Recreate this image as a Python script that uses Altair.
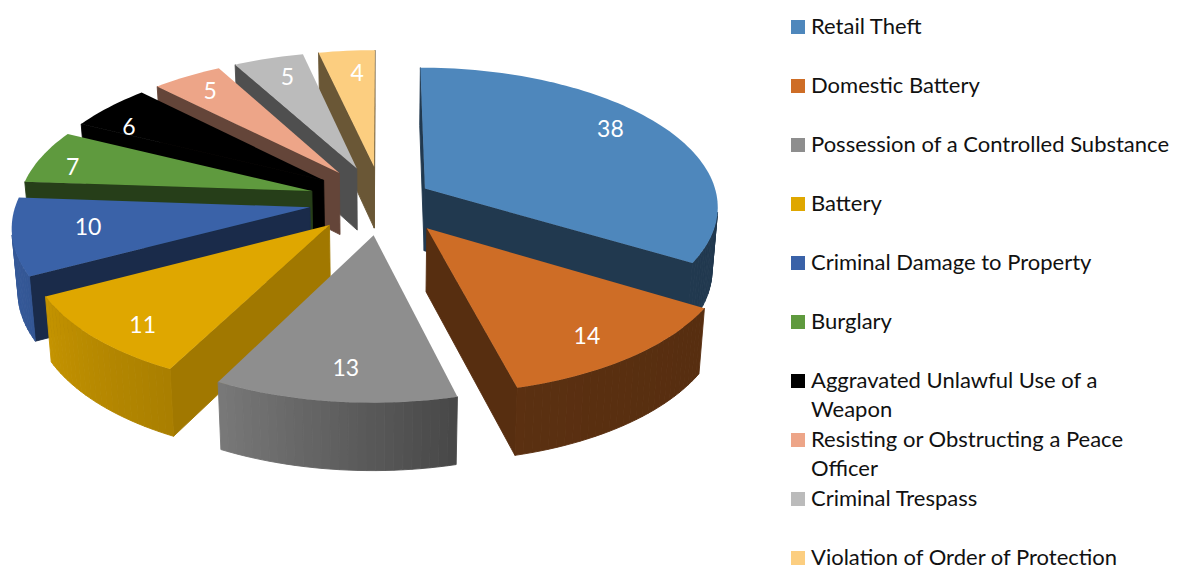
import math
import altair as alt

categories = ["Retail Theft", "Domestic Battery", "Possession of a Controlled Substance", "Battery",
              "Criminal Damage to Property", "Burglary", "Aggravated Unlawful Use of a Weapon",
              "Resisting or Obstructing a Peace Officer", "Criminal Trespass", "Violation of Order of Protection"]
values = [38, 14, 13, 11, 10, 7, 6, 5, 5, 4]
colors = ["#4E87BC", "#CE6D26", "#8E8E8E", "#DFA700", "#3A62A8", "#5F9A3E", "#000000", "#EDA588", "#BBBBBB", "#FCCE80"]
explode = [0.17, 0.25, 0.25, 0.25, 0.25, 0.25, 0.25, 0.25, 0.25, 0.25]

# Lighting and layout of the 3-D pie
wall_shade = [0.42, 0.42, 0.42, 0.72, 0.44, 0.40, 0.42, 0.42, 0.42, 0.42]
rim_light = [(0.42, 0.42), (0.42, 0.44), (0.50, 0.85), (0.76, 0.88), (0.88, 0.95),
             (0.70, 0.80), (0.42, 0.42), (0.42, 0.42), (0.42, 0.42), (0.42, 0.42)]
label_nudge = [(-1, -9), (5, 10), (2, 8), (-7, 15), (9, -2), (-27, 4), (-25, 6), (-8, -4), (1, -3), (5, 0)]
CX, CY, RX, RY, K, THICK = 382.0, 200.0, 293.0, 138.0, 0.12, 62.5
LEGEND_TEXT_X, LEGEND_FIRST_ROW, LEGEND_ROW, LEGEND_LINE = 811, 27, 59, 29
total = sum(values)


def project(X, Z, low=False):
    s = 1.0 / (1.0 + K * Z)
    x = RX * X * s
    y = -RY * Z * s
    if low:
        x *= 0.983
        y += THICK * (1 - 0.07 * Z)
    return [CX + x, CY + y]


def shade(hex_color, f):
    rgb = [int(hex_color[i:i + 2], 16) for i in (1, 3, 5)]
    return "#%02x%02x%02x" % tuple(min(255, round(c * f)) for c in rgb)


def area(q):
    return sum(q[i][0] * q[(i + 1) % len(q)][1] - q[(i + 1) % len(q)][0] * q[i][1] for i in range(len(q)))


def poly(points):
    return {"type": "Polygon", "coordinates": [points + [points[0]]]}


layers = []
labels = []
slices = []
start = 0.0
for i, v in enumerate(values):
    a0 = start / total * 2 * math.pi
    a1 = (start + v) / total * 2 * math.pi
    start += v
    mid = (a0 + a1) / 2
    ox, oz = explode[i] * math.sin(mid), explode[i] * math.cos(mid)
    n = max(4, int((a1 - a0) / math.radians(1.5)))
    angs = [a0 + (a1 - a0) * j / n for j in range(n + 1)]
    rim = [(ox + math.sin(t), oz + math.cos(t)) for t in angs]
    faces = []
    wc = shade(colors[i], wall_shade[i])
    for side, end in ((-1, rim[0]), (1, rim[-1])):
        q = [project(ox, oz), project(*end), project(*end, low=True), project(ox, oz, low=True)]
        if area(q) * side > 0:
            faces.append(((oz + end[1]) / 2, wc, q))
    lo, hi = rim_light[i]
    for j in range(n):
        p, r = rim[j], rim[j + 1]
        q = [project(*p), project(*r), project(*r, low=True), project(*p, low=True)]
        if area(q) < 0:
            faces.append(((p[1] + r[1]) / 2, shade(colors[i], lo + (hi - lo) * (j + 0.5) / n), q))
    faces.sort(key=lambda f: -f[0])
    walls = [{"type": "Feature", "geometry": poly(q), "fill": c} for _, c, q in faces]
    top = [{"type": "Feature", "geometry": poly([project(ox, oz)] + [project(*p) for p in rim]),
            "category": categories[i]}]
    lab = project(ox + 0.78 * math.sin(mid), oz + 0.78 * math.cos(mid))
    labels.append({"lon": lab[0] + label_nudge[i][0], "lat": lab[1] + label_nudge[i][1], "value": v})
    slices.append((walls, top))

color = alt.Color(
    "category:N",
    scale=alt.Scale(domain=categories, range=colors),
    legend=alt.Legend(
        title=None, orient="none", legendX=779, legendY=LEGEND_FIRST_ROW - 8 - LEGEND_ROW / 2, symbolType="square",
        symbolSize=196, symbolStrokeWidth=0, symbolOpacity=1, labelFont="Lato", labelFontSize=22, labelColor="#111111",
        labelLimit=400, clipHeight=LEGEND_ROW, rowPadding=0, labelOffset=2, labelBaseline="middle", columns=1,
        labelExpr="datum.label == 'Aggravated Unlawful Use of a Weapon' ? 'Aggravated Unlawful Use of a' : "
                  "datum.label == 'Resisting or Obstructing a Peace Officer' ? 'Resisting or Obstructing a Peace' : datum.label",
    ),
)

for walls, top in slices[::-1][0:6] + [slices[0]] + [slices[3], slices[2], slices[1]]:
    if walls:
        layers.append(alt.Chart(alt.Data(values=walls)).mark_geoshape(strokeWidth=0.9).encode(
            fill=alt.Fill("fill:N", scale=None), stroke=alt.Stroke("fill:N", scale=None)))
    layers.append(alt.Chart(alt.Data(values=top)).mark_geoshape(strokeWidth=0).encode(color=color))

layers.append(alt.Chart(alt.Data(values=labels)).mark_text(
    color="white", font="Lato", fontSize=23, baseline="middle", align="center"
).encode(longitude="lon:Q", latitude="lat:Q", text="value:Q"))

continuations = [
    {"lon": LEGEND_TEXT_X, "lat": LEGEND_FIRST_ROW + 6 * LEGEND_ROW + LEGEND_LINE, "text": "Weapon"},
    {"lon": LEGEND_TEXT_X, "lat": LEGEND_FIRST_ROW + 7 * LEGEND_ROW + LEGEND_LINE, "text": "Officer"},
]
layers.append(alt.Chart(alt.Data(values=continuations)).mark_text(
    color="#111111", font="Lato", fontSize=22, baseline="middle", align="left"
).encode(longitude="lon:Q", latitude="lat:Q", text="text:N"))

chart = alt.layer(*layers).project(type="identity", scale=1, translate=[-8, -8]).properties(
    width=1161, height=560, padding=0, autosize=alt.AutoSizeParams(type="none")
).configure_view(stroke=None)

chart.save("out.html", embed_options={"renderer": "svg", "actions": False})
